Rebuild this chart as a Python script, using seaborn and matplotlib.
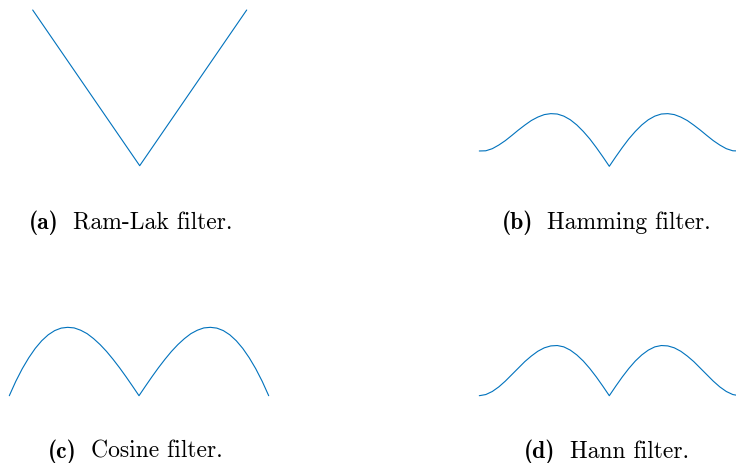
import matplotlib
matplotlib.use("Agg")
import matplotlib.pyplot as plt
import seaborn as sns

# Normalised frequency axis shared by the windowed filters
freq = [-1.00, -0.95, -0.90, -0.85, -0.80, -0.75, -0.70, -0.65, -0.60, -0.55,
        -0.50, -0.45, -0.40, -0.35, -0.30, -0.25, -0.20, -0.15, -0.10, -0.05,
        0.00, 0.05, 0.10, 0.15, 0.20, 0.25, 0.30, 0.35, 0.40, 0.45,
        0.50, 0.55, 0.60, 0.65, 0.70, 0.75, 0.80, 0.85, 0.90, 0.95, 1.00]

ramlak_freq = [-1.0, 0.0, 1.0]
ramlak = [1.0, 0.0, 1.0]

hamming = [0.080, 0.081, 0.092, 0.111, 0.134, 0.161, 0.189, 0.215, 0.239, 0.257,
           0.270, 0.275, 0.273, 0.262, 0.243, 0.216, 0.182, 0.143, 0.098, 0.050,
           0.000, 0.050, 0.098, 0.143, 0.182, 0.216, 0.243, 0.262, 0.273, 0.275,
           0.270, 0.257, 0.239, 0.215, 0.189, 0.161, 0.134, 0.111, 0.092, 0.081, 0.080]

cosine = [0.000, 0.075, 0.141, 0.198, 0.247, 0.287, 0.318, 0.340, 0.353, 0.357,
          0.354, 0.342, 0.324, 0.298, 0.267, 0.231, 0.190, 0.146, 0.099, 0.050,
          0.000, 0.050, 0.099, 0.146, 0.190, 0.231, 0.267, 0.298, 0.324, 0.342,
          0.354, 0.357, 0.353, 0.340, 0.318, 0.287, 0.247, 0.198, 0.141, 0.075, 0.000]

hann = [0.000, 0.006, 0.022, 0.046, 0.076, 0.110, 0.144, 0.178, 0.207, 0.232,
        0.250, 0.260, 0.262, 0.255, 0.238, 0.213, 0.181, 0.142, 0.098, 0.050,
        0.000, 0.050, 0.098, 0.142, 0.181, 0.213, 0.238, 0.255, 0.262, 0.260,
        0.250, 0.232, 0.207, 0.178, 0.144, 0.110, 0.076, 0.046, 0.022, 0.006, 0.000]

labels = ["(a)", "(b)", "(c)", "(d)"]
captions = ["Ram-Lak filter.", "Hamming filter.", "Cosine filter.", "Hann filter."]

sns.set_style("white")
plt.rcParams["axes.formatter.use_mathtext"] = True
plt.rcParams["font.family"] = ["cmr10", "DejaVu Serif"]

W, H = 736, 464
fig = plt.figure(figsize=(W / 100, H / 100), dpi=100)
LINE = "#0072BD"


def panel(x_left, x_right, y_zero, y_top, ytop_val):
    """Axes placed in pixel units (origin at the top-left corner)."""
    ax = fig.add_axes([x_left / W, 1 - y_zero / H,
                       (x_right - x_left) / W, (y_zero - y_top) / H])
    ax.set_xlim(-1, 1)
    ax.set_ylim(0, ytop_val)
    ax.axis("off")
    return ax


scale = 191.5  # pixels per unit of filter response
ax_a = panel(32.7, 246.7, 166.7, 11.0, 1.0)
ax_b = panel(479.3, 739.3, 167.3, 167.3 - 0.3 * scale, 0.3)
ax_c = panel(9.3, 268.7, 396.7, 396.7 - 0.4 * scale, 0.4)
ax_d = panel(479.3, 739.3, 396.7, 396.7 - 0.3 * scale, 0.3)

for ax, xs, ys in [(ax_a, ramlak_freq, ramlak), (ax_b, freq, hamming),
                   (ax_c, freq, cosine), (ax_d, freq, hann)]:
    sns.lineplot(x=xs, y=ys, ax=ax, color=LINE, linewidth=0.8, sort=False)
    for ln in ax.lines:
        ln.set_clip_on(False)

# Sub-captions: bold label followed by the regular caption, centred as a pair
renderer = fig.canvas.get_renderer()
FS = 17
GAP = 14.0  # pixels between label and caption
cap_pos = [(130.7, 229.3), (606.0, 229.3), (135.5, 457.7), (606.5, 457.7)]
for (cx, cy), lab, cap in zip(cap_pos, labels, captions):
    t_lab = fig.text(0, 1 - cy / H, lab, fontsize=FS, family=["cmb10", "DejaVu Serif"],
                     ha="left", va="baseline", color="black")
    t_cap = fig.text(0, 1 - cy / H, cap, fontsize=FS, ha="left", va="baseline",
                     color="black")
    w_lab = t_lab.get_window_extent(renderer).width
    w_cap = t_cap.get_window_extent(renderer).width
    x0 = cx - (w_lab + GAP + w_cap) / 2
    t_lab.set_x(x0 / W)
    t_cap.set_x((x0 + w_lab + GAP) / W)

fig.savefig("out.png", dpi=100)
